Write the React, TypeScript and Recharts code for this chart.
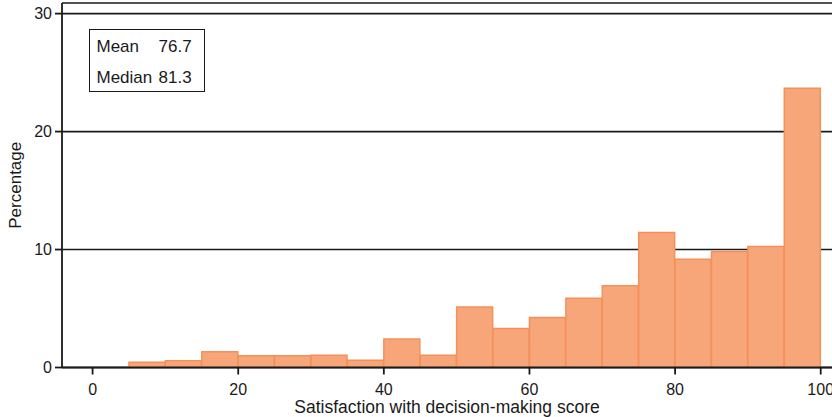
import React from 'react';
import { ComposedChart, Bar, XAxis, YAxis, CartesianGrid } from 'recharts';

const binStarts = [5, 10, 15, 20, 25, 30, 35, 40, 45, 50, 55, 60, 65, 70, 75, 80, 85, 90, 95];
const percentages = [0.44, 0.58, 1.34, 1.0, 1.0, 1.03, 0.61, 2.42, 1.03, 5.13, 3.3, 4.23, 5.87, 6.92, 11.45, 9.18, 9.83, 10.26, 23.67];
const binWidth = 5;
const xTicks = [0, 20, 40, 60, 80, 100];
const yTicks = [0, 10, 20, 30];
const statLabels = ['Mean', 'Median'];
const statValues = ['76.7', '81.3'];

const data = binStarts.map((s, i) => ({ mid: s + binWidth / 2, pct: percentages[i] }));

const FONT = '"Liberation Sans", Arial, sans-serif';
const INK = '#1a1a1a';

export default function App() {
  return (
    <div style={{ position: 'absolute', left: 0, top: 0, width: 832, height: 417, background: '#fff', fontFamily: FONT }}>
      <ComposedChart
        width={832}
        height={417}
        data={data}
        margin={{ top: 3, right: 0, left: 0, bottom: 0 }}
        barCategoryGap={0}
        barGap={0}
      >
        <CartesianGrid vertical={false} stroke={INK} strokeWidth={1.6} strokeDasharray="" />
        <XAxis
          dataKey="mid"
          type="number"
          domain={[-4.2, 101.55]}
          allowDataOverflow
          ticks={xTicks}
          interval={0}
          height={49.5}
          tickSize={7}
          tickMargin={9}
          stroke={INK}
          strokeWidth={1.8}
          tick={{ fill: INK, fontSize: 16, fontFamily: FONT }}
          tickLine={{ stroke: INK, strokeWidth: 1.8 }}
          label={{
            value: 'Satisfaction with decision-making score',
            position: 'insideBottom',
            offset: 4,
            style: { fill: INK, fontSize: 17.5, fontFamily: FONT },
          }}
        />
        <YAxis
          type="number"
          domain={[0, 30.9]}
          allowDataOverflow
          ticks={yTicks}
          interval={0}
          width={62}
          tickSize={7}
          tickMargin={3}
          stroke={INK}
          strokeWidth={1.8}
          tick={{ fill: INK, fontSize: 16, fontFamily: FONT }}
          tickLine={{ stroke: INK, strokeWidth: 1.8 }}
          label={{
            value: 'Percentage',
            angle: -90,
            position: 'insideLeft',
            offset: 15,
            style: { fill: INK, fontSize: 17, fontFamily: FONT, textAnchor: 'middle' },
          }}
        />
        <Bar dataKey="pct" fill="#F7A679" stroke="#F4915B" strokeWidth={1.5} isAnimationActive={false} />
      </ComposedChart>
      <div
        style={{
          position: 'absolute',
          left: 89,
          top: 29,
          width: 116,
          height: 63,
          boxSizing: 'border-box',
          border: `1.5px solid ${INK}`,
          background: '#fff',
          fontSize: 17,
          color: INK,
          lineHeight: '17px',
        }}
      >
        {statLabels.map((lab, i) => (
          <React.Fragment key={lab}>
            <span style={{ position: 'absolute', left: 6.5, top: 8 + i * 30.6, whiteSpace: 'nowrap' }}>{lab}</span>
            <span style={{ position: 'absolute', left: 68.5, top: 8 + i * 30.6, whiteSpace: 'nowrap' }}>{statValues[i]}</span>
          </React.Fragment>
        ))}
      </div>
    </div>
  );
}
